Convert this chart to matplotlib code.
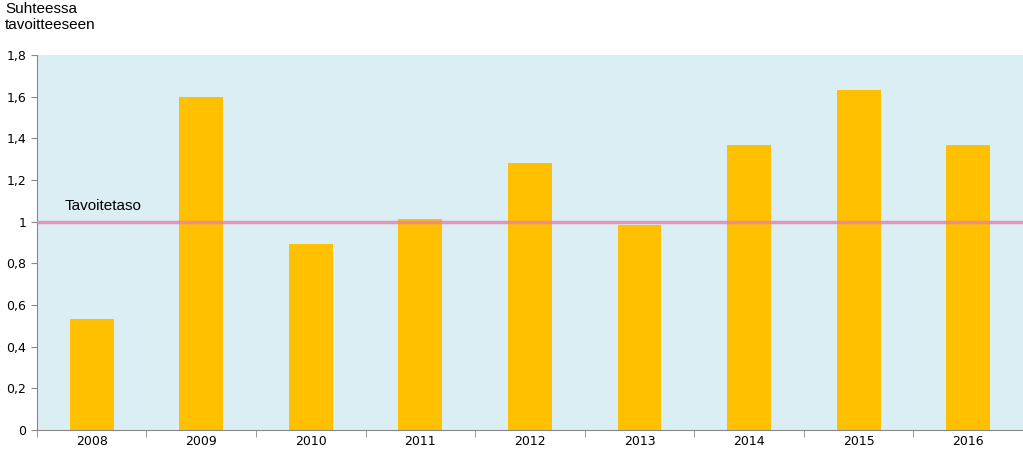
import matplotlib.pyplot as plt
from matplotlib.ticker import FuncFormatter

years = ['2008', '2009', '2010', '2011', '2012', '2013', '2014', '2015', '2016']
values = [0.535, 1.60, 0.895, 1.015, 1.28, 0.985, 1.37, 1.63, 1.37]
target = 1.0

fig = plt.figure(figsize=(10.23, 4.58), dpi=100)
ax = fig.add_axes([0.036, 0.061, 0.964, 0.819])
ax.set_facecolor('#DAEEF3')

x = range(len(years))
ax.bar(x, values, width=0.4, color='#FFC000', zorder=2)
ax.plot([-0.5, len(years) - 0.5], [target, target], color='#E87FB0', lw=2.5, alpha=0.8, zorder=3)
ax.text(-0.25, 1.04, 'Tavoitetaso', fontsize=11, fontfamily='Liberation Sans', va='bottom')

ax.set_xlim(-0.5, len(years) - 0.5)
ax.set_ylim(0, 1.8)
ax.set_yticks([i * 0.2 for i in range(10)])
ax.yaxis.set_major_formatter(FuncFormatter(lambda v, p: ('%g' % round(v, 1)).replace('.', ',')))
ax.set_xticks(list(x))
ax.set_xticklabels(years)
ax.set_xticks([i - 0.5 for i in range(len(years) + 1)], minor=True)
ax.tick_params(axis='x', which='major', length=0, labelsize=9)
ax.tick_params(axis='x', which='minor', length=5, color='#888888')
ax.tick_params(axis='y', length=4, color='#888888', labelsize=9)
for s in ['top', 'right']:
    ax.spines[s].set_visible(False)
for s in ['left', 'bottom']:
    ax.spines[s].set_color('#888888')

fig.text(0.005, 0.93, 'Suhteessa\ntavoitteeseen', fontsize=11, fontfamily='Liberation Sans', va='bottom')

fig.savefig('out.png')
